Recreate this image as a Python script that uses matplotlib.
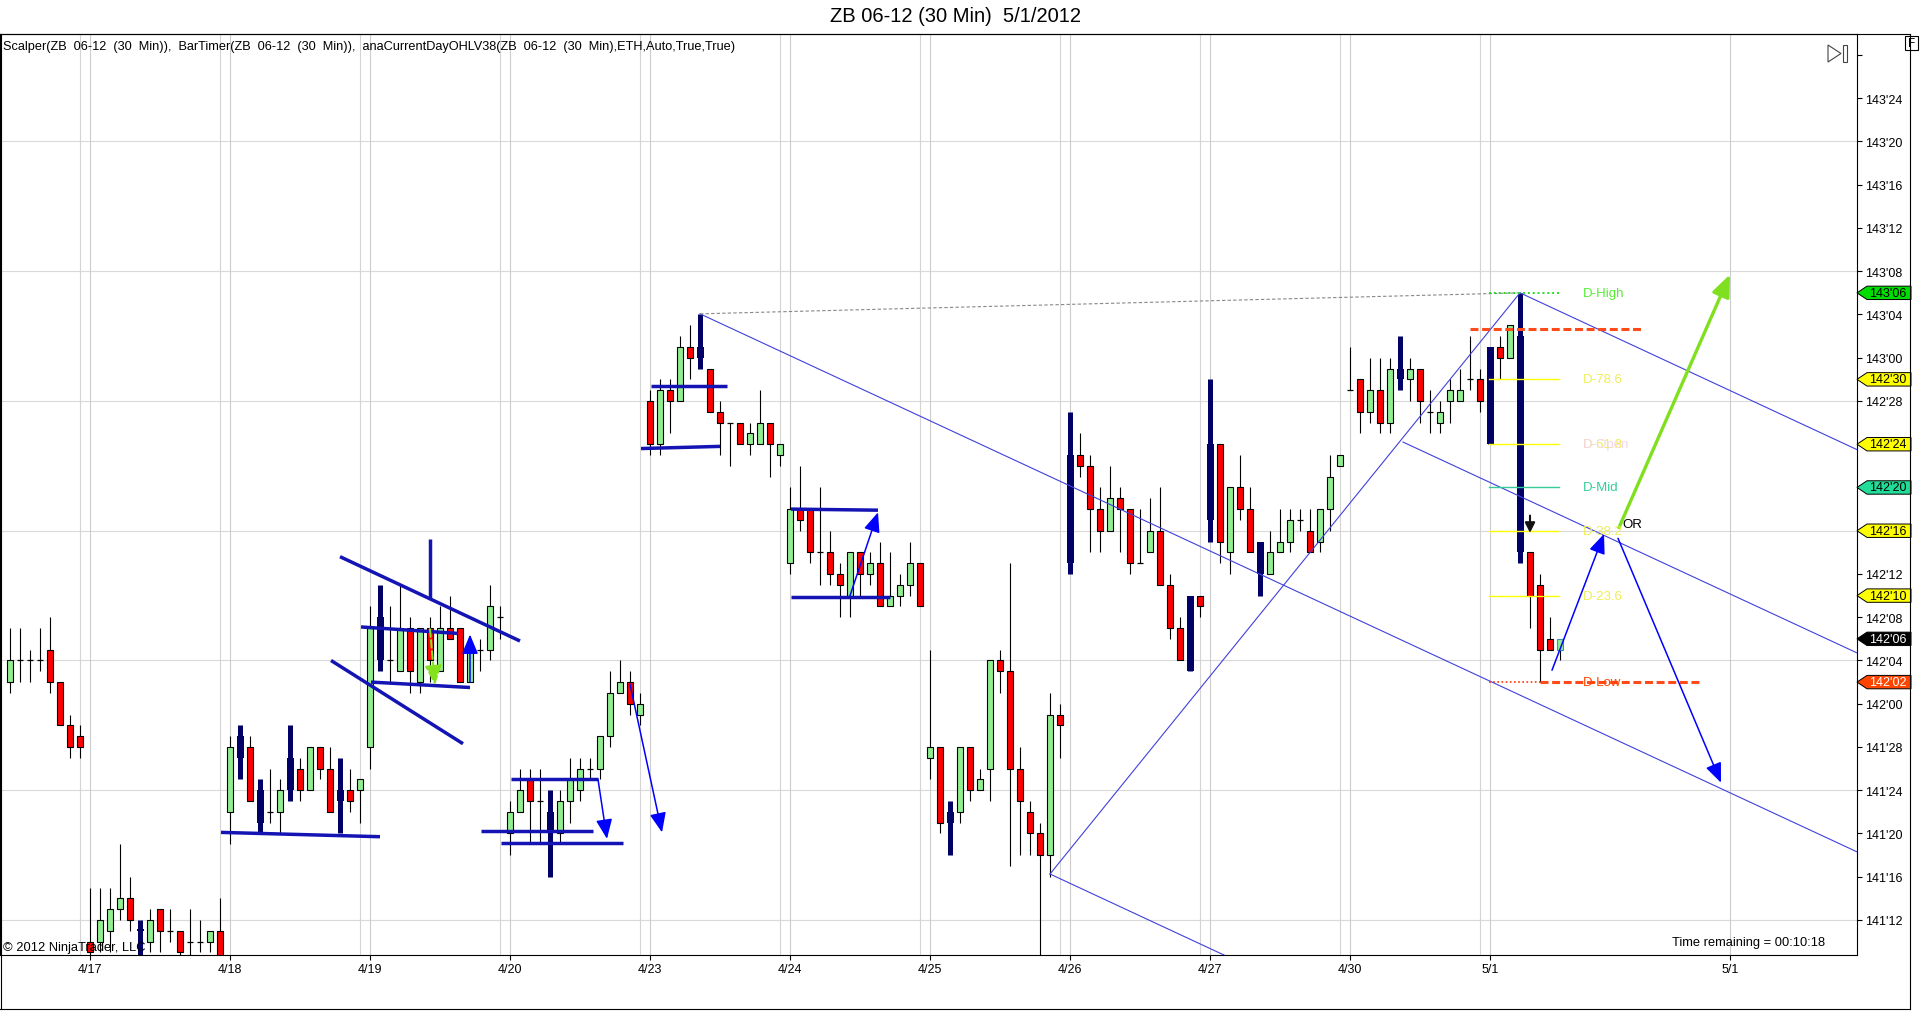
import matplotlib
matplotlib.use("Agg")
import matplotlib.pyplot as plt
from matplotlib.patches import Polygon, Rectangle
from matplotlib.lines import Line2D
from matplotlib.transforms import blended_transform_factory

plt.rcParams["font.family"] = ["Liberation Sans", "DejaVu Sans"]

# prices are stored in 32nds above 141'00
BASE = 141

opens = [34, 36, 36, 36, 37, 34, 30, 29, 10, 10, 11, 13, 14, 11, 10, 13, 11, 11, 10, 10, 10, 11,
         22, 29, 28, 24, 22, 22, 27, 26, 24, 28, 26, 24, 24, 24,
         28, 40, 36, 35, 39, 34, 39, 35, 39, 39, 34, 37, 37, 40,
         20, 22, 25, 23, 22, 20, 23, 24, 26, 26, 29, 33, 34, 31,
         60, 56, 61, 60, 65, 65, 63, 59, 58, 58, 56, 56, 58, 55,
         45, 50, 50, 46, 46, 44, 42, 46, 44, 45, 41, 42, 43, 45,
         27, 28, 22, 22, 28, 24, 26, 36, 35, 26, 22, 20, 18, 31,
         45, 55, 54, 50, 48, 51, 50, 45, 46, 48, 43, 39, 35, 42,
         49, 56, 46, 52, 50, 47, 44, 46, 47, 49, 48, 47, 50, 54,
         61, 62, 59, 61, 58, 63, 62, 63, 59, 58, 60, 60, 62, 62,
         56, 65, 64, 66, 46, 43, 38, 37]
highs = [39, 39, 37, 39, 40, 34, 31, 30, 15, 15, 15, 19, 16, 12, 13, 13, 13, 11, 13, 12, 11, 14,
         29, 30, 29, 25, 26, 25, 30, 27, 28, 28, 28, 27, 26, 25,
         41, 43, 41, 43, 40, 39, 40, 41, 42, 39, 38, 38, 43, 41,
         23, 26, 26, 26, 24, 24, 27, 27, 27, 29, 35, 36, 35, 33,
         61, 62, 62, 66, 67, 68, 63, 60, 58, 58, 58, 61, 58, 56,
         52, 54, 50, 52, 48, 45, 46, 46, 46, 47, 46, 44, 47, 45,
         37, 28, 23, 28, 28, 26, 36, 37, 45, 28, 23, 21, 33, 32,
         59, 57, 55, 52, 54, 52, 50, 50, 51, 52, 44, 40, 42, 42,
         62, 56, 52, 55, 52, 47, 48, 50, 50, 50, 50, 50, 55, 55,
         65, 62, 64, 64, 64, 66, 64, 63, 61, 60, 62, 63, 66, 63,
         65, 66, 67, 70, 46, 44, 40, 38]
lows = [33, 34, 34, 35, 33, 30, 27, 27, 8, 9, 9, 12, 11, 8, 9, 9, 10, 8, 8, 9, 9, 8,
        19, 25, 23, 20, 21, 20, 23, 23, 24, 25, 22, 20, 22, 21,
        26, 35, 34, 35, 33, 33, 34, 35, 38, 34, 34, 35, 36, 38,
        18, 22, 19, 19, 16, 19, 21, 23, 25, 25, 28, 33, 31, 30,
        55, 55, 57, 60, 62, 63, 59, 55, 54, 56, 55, 56, 53, 54,
        44, 48, 45, 43, 43, 40, 40, 42, 43, 41, 41, 41, 42, 41,
        25, 20, 18, 21, 23, 24, 23, 33, 17, 18, 18, 8, 16, 27,
        44, 53, 46, 46, 48, 46, 44, 45, 46, 43, 38, 36, 35, 40,
        47, 45, 44, 49, 46, 42, 44, 46, 46, 48, 46, 46, 48, 54,
        61, 57, 58, 57, 57, 61, 60, 58, 57, 57, 58, 60, 61, 59,
        56, 62, 64, 45, 39, 34, 37, 36]
closes = [36, 36, 36, 36, 34, 30, 28, 28, 9, 12, 13, 14, 12, 11, 12, 11, 11, 9, 10, 10, 11, 8,
          28, 27, 23, 21, 22, 24, 24, 24, 28, 26, 22, 23, 23, 25,
          39, 36, 36, 39, 35, 39, 36, 39, 38, 34, 37, 37, 41, 40,
          22, 24, 23, 23, 20, 23, 25, 26, 26, 29, 33, 34, 32, 32,
          56, 61, 60, 65, 64, 64, 59, 58, 58, 56, 57, 58, 56, 56,
          50, 49, 46, 46, 44, 43, 46, 44, 45, 41, 42, 43, 45, 41,
          28, 21, 21, 28, 24, 25, 36, 35, 26, 23, 20, 18, 31, 30,
          55, 54, 50, 48, 51, 50, 45, 45, 48, 43, 39, 36, 42, 41,
          56, 47, 52, 50, 46, 44, 46, 47, 49, 49, 46, 50, 53, 55,
          61, 59, 61, 58, 63, 62, 63, 60, 59, 59, 61, 61, 62, 60,
          65, 64, 67, 46, 42, 37, 37, 38]

# bars painted navy by the Scalper indicator
signal_bars = [13, 23, 25, 28, 33, 37, 54, 69, 94, 106, 118, 120, 125, 139, 148, 151]

day_labels = ["4/17", "4/18", "4/19", "4/20", "4/23", "4/24", "4/25", "4/26",
              "4/27", "4/30", "5/1", "5/1"]
day_bars = [8, 22, 36, 50, 64, 78, 92, 106, 120, 134, 148, 172]

# current day session (5/1) starts at this bar
session_start = 148

# hand drawn objects, as (bar, price in 32nds)
thick_lines = [((21.1, 20.1), (37.0, 19.7)), ((33.0, 45.6), (51.0, 37.8)),
               ((32.1, 36.0), (45.3, 28.3)), ((42.0, 47.2), (42.0, 41.7)),
               ((35.1, 39.1), (44.8, 38.5)), ((36.1, 34.0), (46.0, 33.5)),
               ((50.1, 25.0), (58.8, 25.0)), ((47.1, 20.2), (58.3, 20.2)),
               ((49.1, 19.1), (61.3, 19.1)), ((64.1, 61.4), (71.7, 61.4)),
               ((63.1, 55.6), (71.0, 55.8)), ((78.1, 50.0), (86.8, 49.9)),
               ((78.1, 41.9), (88.0, 41.9))]
blue_arrows = [((58.8, 25.0), (59.7, 19.5)), ((62.0, 33.8), (65.2, 20.1)),
               ((84.0, 42.0), (86.8, 49.7)), ((46.0, 34.0), (46.0, 38.4)),
               ((154.2, 35.1), (159.4, 47.7)), ((160.8, 47.3), (171.1, 24.7))]
channel_lines = [((69, 68.06), (184.7, 18.3)), ((104, 16.25), (151, 70.0)),
                 ((104, 16.25), (135, 2.9)), ((139.3, 56.2), (184.7, 36.7)),
                 ((151, 70.0), (184.7, 55.5))]
red_dashes = [((146.0, 66.7), (163.1, 66.7)), ((153.0, 34.0), (169.0, 34.0))]

W, H = 1920, 1012


def fx(px):
    return px / W


def fy(py):
    return 1 - py / H


def price_label(t):
    return f"{BASE + t // 32}'{t % 32:02d}"


fig = plt.figure(figsize=(W / 100, H / 100), dpi=100)
fig.patch.set_facecolor("white")
ax = fig.add_axes([0, fy(956), fx(1857), (956 - 35) / H])
ax.set_xlim(-1, 184.7)
ax.set_ylim(8.76, 93.94)

# grid
for t in range(12, 90, 12):
    ax.axhline(t, color="#d9d9d9", lw=0.8, zorder=0)
for d in day_bars:
    ax.axvline(d, color="#cccccc", lw=0.8, zorder=0)
    if d != day_bars[-1]:
        ax.axvline(d - 1, color="#d4d4d4", lw=0.8, zorder=0)

# candles
last = len(opens) - 1
for i in range(len(opens)):
    o, h, l, c = opens[i], highs[i], lows[i], closes[i]
    lo, hi = min(o, c), max(o, c)
    if i in signal_bars:
        ax.vlines(i, l, h, color="#000066", lw=3.6, zorder=3)
        ax.bar(i, max(hi - lo, 0.2), bottom=lo, width=0.7, color="#000066", zorder=3)
    else:
        ax.vlines(i, l, h, color="black", lw=0.8, zorder=2)
        if o == c:
            ax.hlines(o, i - 0.32, i + 0.32, color="black", lw=0.9, zorder=3)
        else:
            ax.bar(i, hi - lo, bottom=lo, width=0.62,
                   color="#90ee90" if c > o else "#ff0000",
                   edgecolor="#3a8fc0" if i == last else "black",
                   linewidth=0.8, zorder=3)

# drawings
for (x1, y1), (x2, y2) in channel_lines:
    ax.plot([x1, x2], [y1, y2], color="#4040dd", lw=0.8, zorder=4)
ax.plot([69, 151], [68.06, 70.0], color="#888888", lw=0.8, ls=(0, (3, 2)), zorder=4)
for (x1, y1), (x2, y2) in thick_lines:
    ax.plot([x1, x2], [y1, y2], color="#1414b4", lw=2.5, zorder=5, solid_capstyle="butt")
for (x1, y1), (x2, y2) in blue_arrows:
    ax.annotate("", xy=(x2, y2), xytext=(x1, y1),
                arrowprops=dict(arrowstyle="-|>,head_length=1.2,head_width=0.5",
                                mutation_scale=10, color="#0000ff", lw=1.1,
                                shrinkA=0, shrinkB=0), zorder=6)
ax.annotate("", xy=(42.5, 33.7), xytext=(42.0, 38.9),
            arrowprops=dict(arrowstyle="-|>,head_length=1.2,head_width=0.5",
                            mutation_scale=10, color="#84e11e", lw=1.5, ls="--",
                            shrinkA=0, shrinkB=0), zorder=6)
ax.annotate("", xy=(172.0, 71.7), xytext=(160.9, 48.3),
            arrowprops=dict(arrowstyle="-|>,head_length=1.2,head_width=0.5",
                            mutation_scale=11, color="#80e020", lw=2.4,
                            shrinkA=0, shrinkB=0), zorder=6)
ax.annotate("", xy=(152, 47.8), xytext=(152, 49.4),
            arrowprops=dict(arrowstyle="-|>,head_length=1.0,head_width=0.5",
                            mutation_scale=6, color="#111111", lw=1.5,
                            shrinkA=0, shrinkB=0), zorder=6)
for (x1, y1), (x2, y2) in red_dashes:
    ax.plot([x1, x2], [y1, y2], color="#ff4a1a", lw=2.2, ls=(0, (2.6, 1.2)), zorder=5)

# current day OHL levels
day_high = max(highs[session_start:])
day_low = min(lows[session_start:])
day_open = opens[session_start]
rng = day_high - day_low
lx1, lx2, tx = 147.9, 154.9, 157.3
fibs = {"D-78.6": round(day_low + 0.786 * rng), "D-61.8": round(day_low + 0.618 * rng),
        "D-38.2": round(day_low + 0.382 * rng), "D-23.6": round(day_low + 0.236 * rng)}
day_mid = day_low + rng // 2
ax.plot([lx1, lx2], [day_high] * 2, color="#22dd22", lw=1.4, ls=(0, (1, 1.5)), zorder=5)
ax.text(tx, day_high, "D-High", color="#55ee33", fontsize=9.5, va="center", zorder=7)
for name, lvl in fibs.items():
    ax.plot([lx1, lx2], [lvl] * 2, color="#ffff00", lw=1.0, zorder=5)
    ax.text(tx, lvl, name, color="#eeee55", fontsize=9.5, va="center", zorder=7)
ax.text(tx, day_open, "D-Open", color="#f6d6e6", fontsize=9.5, va="center", zorder=7)
ax.plot([lx1, lx2], [day_mid] * 2, color="#33cc99", lw=1.0, zorder=5)
ax.text(tx, day_mid, "D-Mid", color="#33cc99", fontsize=9.5, va="center", zorder=7)
ax.plot([lx1, 153.0], [day_low] * 2, color="#ff3300", lw=1.2, ls=(0, (1, 1.5)), zorder=5)
ax.text(tx, day_low, "D-Low", color="#ff4500", fontsize=9.5, va="center", zorder=7)
ax.text(161.2, 48.6, "OR", color="black", fontsize=9.5, va="center", zorder=7)

# price markers on the right scale
markers = [(day_high, "#00dd00", "black"), (fibs["D-78.6"], "#ffff00", "black"),
           (fibs["D-61.8"], "#ffff00", "black"), (day_mid, "#22dd99", "black"),
           (fibs["D-38.2"], "#ffff00", "black"), (fibs["D-23.6"], "#ffff00", "black"),
           (closes[-1], "#000000", "white"), (day_low, "#ff4500", "white")]
marked = {m[0] for m in markers}

# axes (tick labels under a marker are hidden by it)
ax.yaxis.tick_right()
yt = list(range(12, 93, 4))
ax.set_yticks(yt)
ax.set_yticklabels([price_label(t) if t < 92 and t not in marked else "" for t in yt])
ax.set_xticks(day_bars)
ax.set_xticklabels(day_labels)
ax.tick_params(axis="both", direction="out", length=3.6, width=0.8, pad=2.5,
               labelsize=9, colors="black")
for s in ax.spines.values():
    s.set_linewidth(0.8)
    s.set_color("black")

tr = blended_transform_factory(fig.transFigure, ax.transData)
hh = 0.62
for t, fc, tc in markers:
    poly = Polygon([(fx(1857), t), (fx(1867), t + hh), (fx(1911), t + hh),
                    (fx(1911), t - hh), (fx(1867), t - hh)], closed=True,
                   transform=tr, fc=fc, ec="black", lw=0.7, clip_on=False, zorder=10)
    ax.add_patch(poly)
    ax.text(fx(1888), t, price_label(t), transform=tr, ha="center", va="center",
            fontsize=9, color=tc, clip_on=False, zorder=11)

# outer frame and text
fig.add_artist(Line2D([0, fx(1910)], [fy(35)] * 2, color="black", lw=0.8))
fig.add_artist(Line2D([fx(1910)] * 2, [fy(35), fy(1010)], color="black", lw=0.8))
fig.add_artist(Line2D([0, fx(1910)], [fy(1010)] * 2, color="black", lw=0.8))
fig.add_artist(Line2D([fx(0.5)] * 2, [fy(35), fy(1010)], color="black", lw=0.8))

fig.add_artist(Polygon([(fx(1828), fy(46)), (fx(1841), fy(54.5)), (fx(1828), fy(63))],
                       closed=True, fill=False, ec="#444444", lw=0.8))
fig.add_artist(Rectangle((fx(1843), fy(63)), fx(4), 17 / H, fill=False, ec="#444444", lw=0.8))
fig.add_artist(Rectangle((fx(1905), fy(51)), fx(13), 14 / H, fc="white", ec="black", lw=0.8))
fig.text(fx(1911.5), fy(44), "F", ha="center", va="center", fontsize=8.5)

fig.text(fx(956), fy(16), "ZB 06-12 (30 Min)  5/1/2012", ha="center", va="center",
         fontsize=14.5)
fig.text(fx(3), fy(47),
         "Scalper(ZB  06-12  (30  Min)),  BarTimer(ZB  06-12  (30  Min)),  "
         "anaCurrentDayOHLV38(ZB  06-12  (30  Min),ETH,Auto,True,True)",
         ha="left", va="center", fontsize=9.2)
fig.text(fx(3), fy(948), "\u00a9 2012 NinjaTrader, LLC", ha="left", va="center", fontsize=9.3)
fig.text(fx(1672), fy(943), "Time remaining = 00:10:18", ha="left", va="center", fontsize=9.3)

fig.savefig("out.png", dpi=100, facecolor="white")
